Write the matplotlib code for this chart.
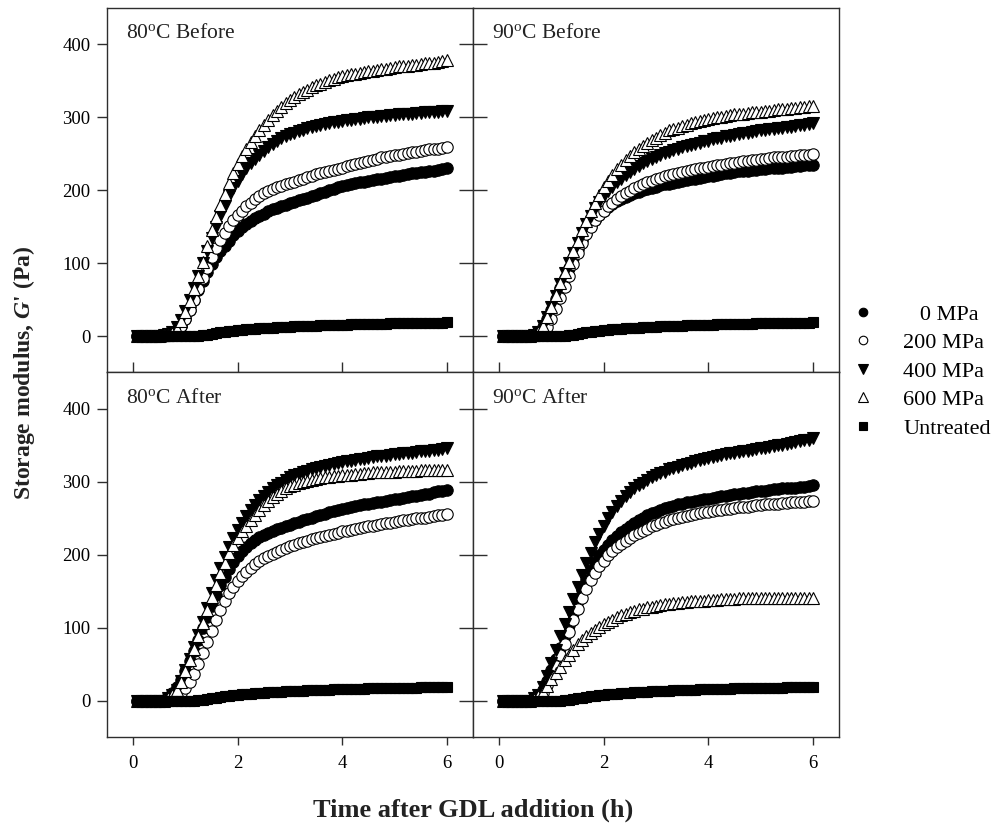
import matplotlib
matplotlib.use("Agg")
import matplotlib.pyplot as plt
from matplotlib.lines import Line2D

plt.rcParams['font.family'] = ['Liberation Serif', 'DejaVu Serif']
plt.rcParams['mathtext.fontset'] = 'custom'
plt.rcParams['mathtext.rm'] = 'Liberation Serif'
plt.rcParams['mathtext.it'] = 'Liberation Serif:italic:bold'
plt.rcParams['mathtext.bf'] = 'Liberation Serif:bold'

# Sampling times (min) after GDL addition
time_min = [5, 10, 15, 20, 25, 30, 35, 40, 45, 50, 55, 60,
            65, 70, 75, 80, 85, 90, 95, 100, 105, 110, 115, 120,
            125, 130, 135, 140, 145, 150, 155, 160, 165, 170, 175, 180,
            185, 190, 195, 200, 205, 210, 215, 220, 225, 230, 235, 240,
            245, 250, 255, 260, 265, 270, 275, 280, 285, 290, 295, 300,
            305, 310, 315, 320, 325, 330, 335, 340, 345, 350, 355, 360]

series_names = ['0 MPa', '200 MPa', '400 MPa', '600 MPa', 'Untreated']
panel_titles = ['80$^{\\mathrm{o}}$C Before', '90$^{\\mathrm{o}}$C Before',
                '80$^{\\mathrm{o}}$C After', '90$^{\\mathrm{o}}$C After']

# Untreated control (same in every panel)
untreated = [0, 0, 0, 0, 0, 0, 0, 0, 0, 0, 0, 0, 0, 0, 0.5, 1, 2, 3, 4, 5, 6, 6.5, 7, 8,
             8.5, 9, 9.5, 10, 10.5, 11, 11.3, 11.6, 12, 12.3, 12.6, 13,
             13.2, 13.5, 13.7, 14, 14.2, 14.4, 14.6, 14.8, 15, 15.2, 15.4, 15.6,
             15.8, 16, 16.1, 16.3, 16.4, 16.6, 16.7, 16.9, 17, 17.1, 17.3, 17.4,
             17.5, 17.6, 17.7, 17.8, 17.9, 18, 18.1, 18.2, 18.3, 18.4, 18.5, 18.6]

# 80 C, before storage
g80b_0 = [0, 0, 0, 0, 0, 0, 0, 1, 3, 7, 14, 24, 36, 49, 63, 76, 88, 99, 108, 116, 124, 131, 138, 144,
          149, 154, 158, 162, 165, 168, 171, 174, 176, 178, 180, 182,
          184, 186, 188, 190, 192, 194, 196, 198, 200, 202, 204, 206,
          207, 208, 210, 211, 212, 213, 214, 215, 216, 217, 218, 219,
          220, 221, 222, 223, 224, 225, 225, 226, 227, 228, 229, 230]
g80b_200 = [0, 0, 0, 0, 0, 0, 0, 1, 3, 7, 14, 24, 36, 50, 65, 80, 94, 108, 121, 132, 142, 151, 159, 166,
            172, 178, 183, 188, 192, 196, 199, 202, 204, 206, 208, 210,
            212, 214, 216, 218, 220, 222, 223, 225, 226, 228, 229, 231,
            233, 234, 236, 237, 239, 240, 242, 243, 245, 246, 247, 248,
            249, 250, 251, 252, 253, 254, 255, 256, 257, 257, 258, 259]
g80b_400 = [0, 0, 0, 0, 0, 0, 1, 3, 6, 12, 22, 35, 50, 66, 83, 100, 117, 134, 150, 165, 179, 192, 203, 213,
            222, 230, 237, 243, 249, 254, 259, 263, 267, 271, 274, 277,
            279, 281, 283, 285, 287, 288, 290, 291, 292, 293, 294, 295,
            296, 297, 298, 298, 299, 300, 300, 301, 302, 302, 303, 303,
            304, 304, 305, 305, 306, 306, 307, 307, 308, 308, 309, 309]
g80b_600 = [0, 0, 0, 0, 0, 0, 1, 2, 4, 9, 20, 33, 48, 64, 82, 102, 124, 145, 163, 180, 195, 210, 224, 236,
            247, 257, 266, 274, 282, 290, 297, 303, 309, 314, 319, 324,
            328, 332, 335, 338, 341, 344, 346, 349, 351, 353, 355, 357,
            358, 359, 360, 361, 362, 363, 364, 365, 366, 367, 368, 369,
            370, 371, 371, 372, 372, 373, 374, 374, 375, 376, 377, 378]

# 90 C, before storage
g90b_0 = [0, 0, 0, 0, 0, 0, 0, 2, 5, 12, 23, 36, 51, 66, 80, 94, 107, 120, 132, 142, 151, 159, 166, 172,
          177, 181, 185, 188, 191, 194, 196, 198, 200, 202, 203, 205,
          207, 208, 209, 210, 211, 213, 214, 215, 216, 217, 218, 219,
          220, 221, 222, 223, 224, 225, 226, 226, 227, 228, 228, 229,
          229, 230, 230, 231, 231, 232, 232, 233, 233, 234, 234, 235]
g90b_200 = [0, 0, 0, 0, 0, 0, 0, 0, 2, 6, 13, 24, 37, 52, 67, 83, 99, 114, 128, 140, 150, 159, 166, 172,
            178, 183, 188, 192, 196, 199, 203, 206, 209, 211, 213, 215,
            217, 219, 221, 222, 224, 225, 227, 228, 229, 230, 231, 232,
            233, 234, 235, 236, 237, 238, 239, 240, 240, 241, 242, 243,
            243, 244, 245, 245, 246, 246, 247, 247, 248, 248, 249, 250]
g90b_400 = [0, 0, 0, 0, 0, 0, 0, 2, 6, 14, 26, 40, 55, 71, 86, 100, 114, 128, 141, 154, 165, 175, 184, 192,
            199, 205, 211, 216, 221, 225, 229, 233, 237, 240, 243, 246,
            249, 251, 253, 255, 257, 259, 261, 262, 264, 265, 267, 268,
            270, 271, 272, 274, 275, 276, 277, 278, 279, 280, 281, 282,
            283, 284, 284, 285, 286, 287, 287, 288, 289, 290, 291, 292]
g90b_600 = [0, 0, 0, 0, 0, 0, 0, 2, 6, 14, 26, 40, 56, 73, 88, 102, 116, 131, 145, 158, 171, 183, 194, 205,
            213, 221, 229, 235, 241, 247, 252, 257, 261, 265, 269, 272,
            276, 279, 282, 284, 286, 288, 290, 292, 294, 295, 296, 298,
            299, 300, 301, 302, 303, 304, 305, 305, 306, 307, 308, 308,
            309, 309, 310, 311, 311, 312, 313, 313, 314, 314, 315, 316]

# 80 C, after storage
g80a_0 = [0, 0, 0, 0, 0, 0, 1, 4, 10, 18, 28, 40, 54, 68, 83, 99, 115, 130, 145, 158, 170, 181, 190, 198,
          205, 211, 216, 220, 224, 227, 230, 233, 235, 237, 239, 241,
          243, 245, 247, 249, 251, 253, 255, 256, 258, 260, 261, 263,
          264, 265, 267, 268, 269, 270, 271, 272, 273, 274, 275, 276,
          277, 278, 279, 280, 281, 282, 283, 284, 286, 287, 288, 289]
g80a_200 = [0, 0, 0, 0, 0, 0, 0, 0, 2, 5, 10, 17, 26, 37, 50, 65, 80, 96, 110, 124, 136, 147, 156, 164,
            171, 177, 182, 187, 191, 195, 198, 201, 204, 207, 209, 212,
            214, 216, 218, 219, 221, 223, 224, 226, 227, 229, 230, 232,
            233, 234, 235, 237, 238, 239, 240, 241, 242, 243, 244, 245,
            246, 247, 248, 249, 250, 250, 251, 252, 253, 254, 255, 256]
g80a_400 = [0, 0, 0, 0, 0, 0, 0, 3, 8, 15, 27, 42, 57, 73, 90, 108, 127, 147, 165, 182, 197, 211, 223, 234,
            244, 253, 261, 268, 275, 281, 286, 291, 295, 299, 303, 306,
            309, 311, 313, 315, 317, 319, 320, 322, 323, 325, 326, 327,
            328, 329, 330, 331, 332, 333, 334, 335, 335, 336, 337, 338,
            338, 339, 340, 340, 341, 342, 342, 343, 344, 344, 345, 346]
g80a_600 = [0, 0, 0, 0, 0, 0, 0, 3, 8, 15, 26, 40, 55, 71, 88, 106, 124, 142, 159, 175, 189, 202, 213, 223,
            232, 240, 248, 255, 262, 268, 274, 279, 283, 287, 291, 294,
            296, 298, 300, 301, 303, 304, 305, 306, 307, 308, 308, 309,
            310, 310, 311, 311, 312, 312, 313, 313, 313, 314, 314, 314,
            315, 315, 315, 315, 315, 316, 316, 316, 316, 316, 316, 316]

# 90 C, after storage
g90a_0 = [0, 0, 0, 0, 0, 0, 0, 3, 7, 15, 27, 42, 57, 72, 88, 104, 120, 136, 152, 166, 179, 190, 199, 207,
          214, 220, 226, 231, 236, 240, 244, 248, 251, 254, 257, 259,
          262, 264, 266, 267, 269, 270, 272, 273, 274, 275, 276, 277,
          278, 279, 280, 281, 282, 283, 284, 285, 285, 286, 287, 288,
          288, 289, 290, 290, 291, 291, 292, 292, 293, 293, 294, 295]
g90a_200 = [0, 0, 0, 0, 0, 0, 0, 2, 5, 11, 21, 34, 48, 63, 78, 94, 110, 125, 140, 153, 165, 175, 184, 192,
            199, 205, 210, 215, 219, 223, 227, 230, 233, 236, 239, 241,
            243, 245, 247, 249, 250, 252, 253, 255, 256, 257, 258, 259,
            260, 261, 262, 263, 263, 264, 265, 266, 266, 267, 268, 268,
            269, 269, 270, 270, 271, 271, 272, 272, 273, 273, 274, 274]
g90a_400 = [0, 0, 0, 0, 0, 0, 0, 3, 8, 18, 34, 52, 70, 88, 105, 122, 139, 156, 172, 188, 203, 217, 229, 240,
            250, 259, 267, 274, 280, 286, 291, 295, 299, 303, 306, 309,
            312, 314, 317, 319, 321, 323, 325, 326, 328, 330, 331, 333,
            334, 335, 337, 338, 339, 340, 341, 342, 343, 344, 345, 346,
            347, 348, 349, 350, 351, 352, 353, 355, 356, 357, 358, 360]
g90a_600 = [0, 0, 0, 0, 0, 0, 0, 2, 6, 12, 20, 29, 38, 46, 55, 63, 70, 77, 83, 88, 93, 97, 101, 105,
            108, 111, 114, 117, 119, 121, 123, 125, 126, 128, 129, 130,
            131, 132, 133, 134, 134, 135, 135, 136, 136, 137, 137, 138,
            138, 138, 139, 139, 139, 139, 140, 140, 140, 140, 140, 140,
            140, 140, 140, 140, 140, 140, 140, 140, 140, 140, 140, 140]

panels = [
    [g80b_0, g80b_200, g80b_400, g80b_600, untreated],
    [g90b_0, g90b_200, g90b_400, g90b_600, untreated],
    [g80a_0, g80a_200, g80a_400, g80a_600, untreated],
    [g90a_0, g90a_200, g90a_400, g90a_600, untreated],
]

x_ticks = [0, 2, 4, 6]
y_ticks = [0, 100, 200, 300, 400]

styles = {
    '0 MPa':     dict(marker='o', mfc='black', ms=8.2),
    '200 MPa':   dict(marker='o', mfc='white', ms=8.2),
    '400 MPa':   dict(marker='v', mfc='black', ms=8.8),
    '600 MPa':   dict(marker='^', mfc='white', ms=8.8),
    'Untreated': dict(marker='s', mfc='black', ms=7.4),
}

W, H = 995, 825
fig = plt.figure(figsize=(W / 100, H / 100), dpi=100)

x0, x1 = 107 / W, 839 / W
y_top, y_bot = 1 - 8 / H, 1 - 737 / H
pw = (x1 - x0) / 2
ph = (y_top - y_bot) / 2
rects = [
    [x0, y_bot + ph, pw, ph], [x0 + pw, y_bot + ph, pw, ph],
    [x0, y_bot, pw, ph], [x0 + pw, y_bot, pw, ph],
]

time_h = [m / 60 for m in time_min]
spine_col = '#2e2e2e'

for i, (rect, data, title) in enumerate(zip(rects, panels, panel_titles)):
    ax = fig.add_axes(rect)
    is_left = i % 2 == 0
    is_top = i < 2
    for name, vals in zip(series_names, data):
        st = styles[name]
        ax.plot(time_h, vals, linestyle='none', marker=st['marker'], ms=st['ms'],
                mfc=st['mfc'], mec='black', mew=0.8)
    ax.set_xlim(-0.5, 6.5)
    ax.set_ylim(-50, 450)
    ax.set_xticks(x_ticks)
    ax.set_yticks(y_ticks)
    for sp in ax.spines.values():
        sp.set_color(spine_col)
        sp.set_linewidth(1.0)

    # y axis ticks
    if is_left:
        ax.tick_params(axis='y', which='both', left=True, right=False, direction='out',
                       length=7, width=1, color=spine_col, labelsize=13.5, pad=5)
    else:
        ax.tick_params(axis='y', which='both', left=True, right=False, direction='inout',
                       length=20, width=1, color=spine_col, labelleft=False)
    # x axis ticks
    if is_top:
        ax.tick_params(axis='x', which='both', bottom=True, top=False, direction='inout',
                       length=15, width=1, color=spine_col, labelbottom=False)
    else:
        ax.tick_params(axis='x', which='both', bottom=True, top=False, direction='out',
                       length=6, width=1, color=spine_col, labelsize=13.5, pad=7)

    ax.text(0.052, 0.955, title, transform=ax.transAxes, ha='left', va='top',
            fontsize=15.5, color='#222222')

fig.text(0.024, 1 - 372.5 / H, "Storage modulus, $\\it{G}$' (Pa)", rotation=90,
         ha='center', va='center', fontsize=17, fontweight='bold', color='#222222')
fig.text(473 / W, 1 - 810 / H, 'Time after GDL addition (h)', ha='center', va='center',
         fontsize=19, fontweight='bold', color='#222222')

handles = []
for name in series_names:
    st = styles[name]
    handles.append(Line2D([], [], linestyle='none', marker=st['marker'], ms=st['ms'] * 0.75,
                          mfc=st['mfc'], mec='black', mew=0.8))
labels = ['   0 MPa', '200 MPa', '400 MPa', '600 MPa', 'Untreated']
fig.legend(handles, labels, loc='upper left', bbox_to_anchor=(852 / W, 1 - 304 / H),
           frameon=False, fontsize=16, handlelength=1.0, handletextpad=1.3,
           labelspacing=0.36, borderpad=0, borderaxespad=0)

fig.savefig('out.png', dpi=100)
